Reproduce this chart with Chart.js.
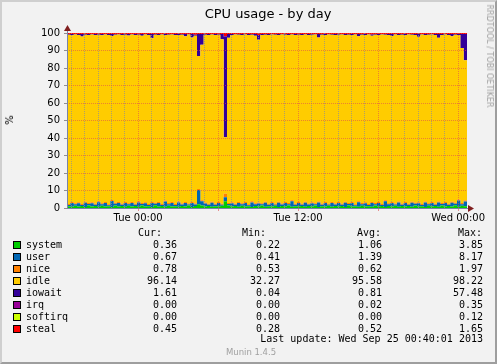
<!DOCTYPE html>
<html>
<head>
<meta charset="utf-8">
<script src="https://cdn.jsdelivr.net/npm/chart.js@4"></script>
<style>
  html, body { margin: 0; padding: 0; }
  body { width: 497px; height: 364px; overflow: hidden; }
  #frame { position: relative; width: 497px; height: 364px; background: #f2f2f2; font-family: 'DejaVu Sans', sans-serif; }
  #bd { position: absolute; left: 0; top: 0; width: 497px; height: 364px; box-sizing: border-box;
        border-style: solid; border-width: 2px; border-color: #cfcfcf #9e9e9e #9e9e9e #cfcfcf; pointer-events: none; }
  #c { position: absolute; left: 0; top: 0; }
  .t { position: absolute; white-space: pre; font-family: 'DejaVu Sans Mono', monospace; font-size: 10px; line-height: 12px; color: #000; }
  .r { text-align: right; }
  .box { position: absolute; width: 6px; height: 6px; border: 1px solid #000; }
</style>
</head>
<body>
<div id="frame">
  <canvas id="c" width="497" height="364"></canvas>
  <div id="title" style="position:absolute;left:268px;top:6px;transform:translateX(-50%);font-size:13px;line-height:16px;white-space:nowrap;">CPU usage - by day</div>
  <div style="position:absolute;left:10px;top:120px;transform:translate(-50%,-50%) rotate(-90deg);font-size:10px;line-height:12px;">%</div>
  <div style="position:absolute;left:489px;top:56px;transform:translate(-50%,-50%) rotate(90deg);font-size:8px;line-height:10px;color:#a0a0a0;white-space:nowrap;">RRDTOOL / TOBI OETIKER</div>
  <div id="legend"></div>
  <div style="position:absolute;left:251px;top:346px;transform:translateX(-50%);font-size:8.5px;line-height:12px;color:#a0a0a0;white-space:nowrap;">Munin 1.4.5</div>
  <div id="bd"></div>
</div>
<script>
// 15 minute samples from Mon 18:40 to Wed 00:40
const stepHours = 0.25;
const startClock = 18 + 40 / 60;
const xTickLabels = ['Tue 00:00', 'Tue 12:00', 'Wed 00:00'];

const seriesNames = ['system', 'user', 'nice', 'idle', 'iowait', 'irq', 'softirq', 'steal'];
const seriesColors = ['#00cc00', '#0066b3', '#ff8000', '#ffcc00', '#330099', '#990099', '#ccff00', '#ff0000'];

const system = [
  1.0,0.7,1.3,0.8,1.1,0.6,1.4,0.9,1.2,0.7,
  1.3,0.8,1.0,0.6,1.5,0.9,1.1,0.7,1.3,0.8,
  1.2,0.7,1.4,0.9,1.0,0.6,1.6,0.8,1.1,0.7,
  1.3,0.9,1.0,0.7,1.2,0.8,1.4,0.6,1.1,2.1,
  1.5,0.8,1.2,0.7,1.0,0.9,1.3,3.85,1.4,0.8,
  1.1,0.7,1.3,0.9,1.0,0.6,1.2,0.8,1.4,0.7,
  1.0,0.8,1.3,0.6,1.1,0.9,1.5,0.7,1.0,0.8,
  1.2,0.7,1.1,0.9,1.4,0.6,1.0,0.8,1.3,0.7,
  1.1,0.9,1.2,0.6,1.5,0.8,1.0,0.7,1.3,0.9,
  1.0,0.7,1.4,0.8,1.1,0.6,1.2,0.9,1.3,0.7,
  1.1,0.8,1.2,0.7,1.5,0.9,1.0,0.6,1.3,0.8,
  1.2,0.7,1.4,0.9,1.1,0.8,1.6,0.7,1.3,1.0,
  0.36
];
const user = [
  0.7,2.2,0.8,1.9,0.6,2.4,0.9,1.8,0.7,2.6,
  0.8,2.0,0.6,3.4,0.9,1.9,0.7,2.2,0.8,2.0,
  0.6,2.5,0.9,1.8,0.7,2.3,0.8,2.1,0.6,3.0,
  0.9,1.9,0.7,2.4,0.8,2.0,0.6,2.2,0.9,8.17,
  2.4,1.8,0.7,2.3,0.8,2.0,0.6,2.31,0.9,1.9,
  0.7,2.2,0.8,2.0,0.6,2.6,0.9,1.8,0.7,2.3,
  0.8,2.1,0.6,2.4,0.9,1.9,0.7,3.2,0.8,2.0,
  0.6,2.3,0.9,1.8,0.7,2.5,0.8,2.0,0.6,2.2,
  0.9,1.9,0.7,2.4,0.8,2.1,0.6,2.6,0.9,1.8,
  0.7,2.2,0.8,2.0,0.6,3.3,0.9,1.9,0.7,2.4,
  0.8,2.0,0.6,2.3,0.9,1.8,0.7,2.5,0.8,2.1,
  0.6,2.4,0.9,1.9,0.7,2.2,0.8,3.6,0.9,2.7,
  0.67
];
const nice = [
  0.6,0.6,0.6,0.6,0.6,0.6,0.6,0.6,0.6,0.6,
  0.6,0.6,0.6,0.6,0.6,0.6,0.6,0.6,0.6,0.6,
  0.6,0.6,0.6,0.6,0.6,0.6,0.6,0.6,0.6,0.6,
  0.6,0.6,0.6,0.6,0.6,0.6,0.6,0.6,0.6,0.6,
  0.6,0.6,0.6,0.6,0.6,0.6,0.6,1.97,0.6,0.6,
  0.6,0.6,0.6,0.6,0.6,0.6,0.6,0.6,0.6,0.6,
  0.6,0.6,0.6,0.6,0.6,0.6,0.6,0.6,0.6,0.6,
  0.6,0.6,0.6,0.6,0.6,0.6,0.6,0.6,0.6,0.6,
  0.6,0.6,0.6,0.6,0.6,0.6,0.6,0.6,0.6,0.6,
  0.6,0.6,0.6,0.6,0.6,0.6,0.6,0.6,0.6,0.6,
  0.6,0.6,0.6,0.6,0.6,0.6,0.6,0.6,0.6,0.6,
  0.6,0.6,0.6,0.6,0.6,0.6,0.6,0.6,0.6,0.6,
  0.78
];
const idle = [
  96.7,95.2,96.4,95.6,95.7,95.4,95.9,95.8,96.4,95.1,
  96.0,95.7,96.7,93.7,96.0,95.7,96.4,95.5,95.9,95.7,
  96.5,95.2,95.6,95.8,96.6,93.5,96.0,95.3,96.8,94.6,
  96.2,95.7,96.5,95.2,96.4,94.8,96.5,94.1,95.9,76.03,
  88.8,95.8,96.4,95.5,96.4,95.5,94.0,32.27,94.4,95.6,
  96.7,95.5,96.1,95.6,96.7,95.2,95.7,93.0,96.2,95.4,
  96.4,95.6,96.5,95.3,96.5,95.6,96.0,94.6,96.5,95.6,
  96.5,95.5,96.3,95.7,96.4,93.8,96.6,95.5,96.6,95.5,
  96.3,95.6,96.6,95.2,96.1,95.4,96.9,94.2,96.2,95.6,
  96.8,94.9,96.2,95.5,96.8,94.5,96.2,94.9,96.5,95.1,
  96.5,95.5,96.7,95.4,95.8,94.6,96.8,95.2,96.3,95.6,
  96.5,93.6,95.9,95.7,96.5,94.6,96.0,94.0,88.7,80.2,
  96.14
];
const iowait = [
  0.5,0.8,0.4,0.6,1.5,0.5,0.7,0.4,0.6,0.5,
  0.8,0.4,0.6,1.2,0.5,0.4,0.7,0.5,0.9,0.4,
  0.6,0.5,1.0,0.4,0.6,2.5,0.5,0.7,0.4,0.6,
  0.5,0.4,0.7,0.6,0.5,1.3,0.4,2.0,0.5,12.5,
  6.2,0.5,0.6,0.4,0.7,0.5,3.0,57.48,2.2,0.6,
  0.4,0.5,0.7,0.4,0.6,0.5,1.1,2.6,0.6,0.5,
  0.7,0.4,0.5,0.6,0.4,0.5,0.7,0.4,0.6,0.5,
  0.6,0.4,0.6,0.5,0.4,2.0,0.5,0.6,0.4,0.5,
  0.6,0.5,0.4,0.7,0.5,0.6,0.4,1.4,0.5,0.6,
  0.4,0.7,0.5,0.6,0.4,0.5,0.6,1.2,0.4,0.7,
  0.5,0.6,0.4,0.5,0.7,1.6,0.4,0.6,0.5,0.4,
  0.6,2.2,0.7,0.4,0.6,1.3,0.5,0.6,8.0,15.0,
  1.61
];
const irq = [
  0,0,0,0,0,0,0,0,0,0, 0,0,0,0,0,0,0,0,0,0, 0,0,0,0,0,0,0,0,0,0,
  0,0,0,0,0,0,0,0,0,0.1, 0,0,0,0,0,0,0,0.35,0,0, 0,0,0,0,0,0,0,0,0,0,
  0,0,0,0,0,0,0,0,0,0, 0,0,0,0,0,0,0,0,0,0, 0,0,0,0,0,0,0,0,0,0,
  0,0,0,0,0,0,0,0,0,0, 0,0,0,0,0,0,0,0,0,0, 0,0,0,0,0,0,0,0,0,0,
  0
];
const softirq = [
  0,0,0,0,0,0,0,0,0,0, 0,0,0,0,0,0,0,0,0,0, 0,0,0,0,0,0,0,0,0,0,
  0,0,0,0,0,0,0,0,0,0, 0,0,0,0,0,0,0,0.12,0,0, 0,0,0,0,0,0,0,0,0,0,
  0,0,0,0,0,0,0,0,0,0, 0,0,0,0,0,0,0,0,0,0, 0,0,0,0,0,0,0,0,0,0,
  0,0,0,0,0,0,0,0,0,0, 0,0,0,0,0,0,0,0,0,0, 0,0,0,0,0,0,0,0,0,0,
  0
];
const steal = [
  0.5,0.5,0.5,0.5,0.5,0.5,0.5,0.5,0.5,0.5,
  0.5,0.5,0.5,0.5,0.5,0.5,0.5,0.5,0.5,0.5,
  0.5,0.5,0.5,0.5,0.5,0.5,0.5,0.5,0.5,0.5,
  0.5,0.5,0.5,0.5,0.5,0.5,0.5,0.5,1.0,0.5,
  0.5,0.5,0.5,0.5,0.5,0.5,0.5,1.65,0.5,0.5,
  0.5,0.5,0.5,0.5,0.5,0.5,0.5,1.2,0.5,0.5,
  0.5,0.5,0.5,0.5,0.5,0.5,0.5,0.5,0.5,0.5,
  0.5,0.5,0.5,0.5,0.5,0.5,0.5,0.5,0.5,0.5,
  0.5,0.5,0.5,0.5,0.5,0.5,0.5,0.5,0.5,0.5,
  0.5,0.9,0.5,0.5,0.5,0.5,0.5,0.5,0.5,0.5,
  0.5,0.5,0.5,0.5,0.5,0.5,0.5,0.5,0.5,0.5,
  0.5,0.5,0.5,0.5,0.5,0.5,0.5,0.5,0.5,0.5,
  0.45
];

// legend table values
const curVals = [0.36, 0.67, 0.78, 96.14, 1.61, 0.00, 0.00, 0.45];
const minVals = [0.22, 0.41, 0.53, 32.27, 0.04, 0.00, 0.00, 0.28];
const avgVals = [1.06, 1.39, 0.62, 95.58, 0.81, 0.02, 0.00, 0.52];
const maxVals = [3.85, 8.17, 1.97, 98.22, 57.48, 0.35, 0.12, 1.65];
const lastUpdate = 'Last update: Wed Sep 25 00:40:01 2013';

const seriesData = [system, user, nice, idle, iowait, irq, softirq, steal];

const datasets = seriesData.map((vals, k) => ({
  label: seriesNames[k],
  data: vals.map((v, i) => ({ x: i * stepHours, y: v })),
  backgroundColor: seriesColors[k],
  borderWidth: 0,
  pointRadius: 0,
  stepped: true,
  fill: k === 0 ? 'origin' : '-1'
}));

const gridMinor = 'rgba(143,143,143,0.75)';
const gridMajor = 'rgba(222,79,79,0.6)';

// hour grid: first full hour after start, every hour
const firstHour = Math.ceil(startClock) - startClock;
const hourOfDay = v => Math.round(v + startClock) % 24;
const labelFor = v => {
  const h = hourOfDay(v);
  if (h % 12 !== 0) return '';
  const idx = Math.round((v - (12 - (startClock % 12))) / 12);
  return xTickLabels[idx] || '';
};

const arrows = {
  id: 'arrows',
  afterDraw(chart) {
    const { ctx, chartArea: a } = chart;
    ctx.save();
    ctx.strokeStyle = '#7a84a6';
    ctx.lineWidth = 1;
    ctx.beginPath();
    ctx.moveTo(a.left + 0.5, a.bottom + 1);
    ctx.lineTo(a.left + 0.5, a.top - 4);
    ctx.moveTo(a.left, a.bottom + 0.5);
    ctx.lineTo(a.right + 4, a.bottom + 0.5);
    ctx.stroke();
    ctx.fillStyle = '#801f1f';
    ctx.beginPath();
    ctx.moveTo(a.left + 0.5, a.top - 8);
    ctx.lineTo(a.left - 3, a.top - 2);
    ctx.lineTo(a.left + 4, a.top - 2);
    ctx.closePath();
    ctx.fill();
    ctx.beginPath();
    ctx.moveTo(a.right + 7, a.bottom + 0.5);
    ctx.lineTo(a.right + 1, a.bottom - 3);
    ctx.lineTo(a.right + 1, a.bottom + 4);
    ctx.closePath();
    ctx.fill();
    ctx.restore();
  }
};

const ctx = document.getElementById('c').getContext('2d');
const myChart = new Chart(ctx, {
  type: 'line',
  data: { datasets: datasets },
  options: {
    responsive: false,
    animation: false,
    layout: { padding: { left: 0, right: 30, top: 33, bottom: 136 } },
    plugins: { legend: { display: false }, tooltip: { enabled: false }, title: { display: false } },
    scales: {
      x: {
        type: 'linear',
        min: 0,
        max: 30,
        afterFit: s => { s.height = 20; },
        afterBuildTicks: s => {
          const t = [];
          for (let v = firstHour; v < 30; v += 1) t.push({ value: v });
          s.ticks = t;
        },
        ticks: {
          autoSkip: false,
          maxRotation: 0,
          padding: 1,
          color: '#000',
          font: { family: 'DejaVu Sans', size: 10 },
          callback: v => labelFor(v)
        },
        grid: {
          z: 1,
          color: c => (c.tick && hourOfDay(c.tick.value) % 6 === 0) ? gridMajor : gridMinor,
          tickColor: c => (c.tick && hourOfDay(c.tick.value) % 6 === 0) ? gridMajor : 'rgba(0,0,0,0)',
          tickLength: 3,
          lineWidth: 1
        },
        border: { display: false, dash: [1, 1] }
      },
      y: {
        stacked: true,
        min: 0,
        max: 100,
        afterFit: s => { s.width = 67; },
        ticks: {
          stepSize: 5,
          padding: 4,
          color: '#000',
          font: { family: 'DejaVu Sans', size: 10 },
          callback: v => (v % 10 === 0 ? String(v) : '')
        },
        grid: {
          z: 1,
          color: c => (c.tick && c.tick.value % 10 === 0) ? gridMajor : gridMinor,
          tickColor: '#8f8f8f',
          tickLength: 3,
          lineWidth: 1
        },
        border: { display: false, dash: [1, 1] }
      }
    }
  },
  plugins: [arrows]
});

// legend table below the graph
const legend = document.getElementById('legend');
const add = (html) => legend.insertAdjacentHTML('beforeend', html);
const headY = 227;
add(`<div class="t r" style="left:100px;width:62px;top:${headY}px">Cur:</div>`);
add(`<div class="t r" style="left:200px;width:66px;top:${headY}px">Min:</div>`);
add(`<div class="t r" style="left:300px;width:81px;top:${headY}px">Avg:</div>`);
add(`<div class="t r" style="left:400px;width:82px;top:${headY}px">Max:</div>`);
seriesNames.forEach((name, k) => {
  const y = 239 + k * 11.93;
  add(`<div class="box" style="left:13px;top:${(y + 2).toFixed(1)}px;background:${seriesColors[k]}"></div>`);
  add(`<div class="t" style="left:26px;top:${y.toFixed(1)}px">${name}</div>`);
  add(`<div class="t r" style="left:100px;width:77px;top:${y.toFixed(1)}px">${curVals[k].toFixed(2)}</div>`);
  add(`<div class="t r" style="left:200px;width:80px;top:${y.toFixed(1)}px">${minVals[k].toFixed(2)}</div>`);
  add(`<div class="t r" style="left:300px;width:82px;top:${y.toFixed(1)}px">${avgVals[k].toFixed(2)}</div>`);
  add(`<div class="t r" style="left:400px;width:83px;top:${y.toFixed(1)}px">${maxVals[k].toFixed(2)}</div>`);
});
add(`<div class="t r" style="left:200px;width:283px;top:333px">${lastUpdate}</div>`);
</script>
</body>
</html>
